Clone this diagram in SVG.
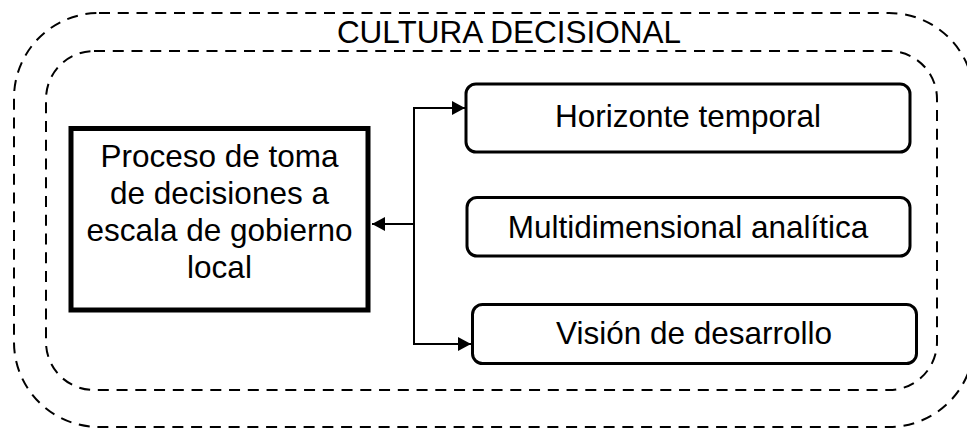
<svg xmlns="http://www.w3.org/2000/svg" width="967" height="428" viewBox="0 0 967 428">
  <style>
    .dash { fill: none; stroke: #000; stroke-width: 2; stroke-dasharray: 11 7.75; }
    .box { fill: #fff; stroke: #000; stroke-width: 3; }
    .main { fill: #fff; stroke: #000; stroke-width: 5; }
    .t { font-family: "Liberation Sans", Arial, sans-serif; font-size: 31.5px; fill: #000; text-anchor: middle; }
    .conn { fill: none; stroke: #000; stroke-width: 2; }
  </style>
  <defs>
    <marker id="arr" viewBox="0 0 13 14" refX="13" refY="7" markerWidth="13" markerHeight="14" markerUnits="userSpaceOnUse" orient="auto">
      <path d="M0,0 L13,7 L0,14 Z" fill="#000"/>
    </marker>
  </defs>
  <rect width="967" height="428" fill="#fff"/>

  <g id="cultura-decisional">
    <rect class="dash" x="14" y="13" width="960" height="414" rx="85" ry="85"/>
    <rect class="dash" x="46" y="51" width="891" height="339" rx="48" ry="48"/>
    <text class="t" x="509" y="43">CULTURA DECISIONAL</text>
  </g>

  <g id="connectors">
    <path class="conn" d="M414,224 L414,108 L465,108" marker-end="url(#arr)"/>
    <path class="conn" d="M414,224 L414,344 L471,344" marker-end="url(#arr)"/>
    <path class="conn" d="M414,224 L372,224" marker-end="url(#arr)"/>
  </g>

  <g id="proceso">
    <rect class="main" x="71" y="128.5" width="297" height="181.5"/>
    <text class="t" x="219.5" y="167">Proceso de toma</text>
    <text class="t" x="219.5" y="204">de decisiones a</text>
    <text class="t" x="219.5" y="241">escala de gobierno</text>
    <text class="t" x="219.5" y="278">local</text>
  </g>

  <g id="horizonte">
    <rect class="box" x="466" y="84" width="444" height="68" rx="10" ry="10"/>
    <text class="t" x="688" y="127">Horizonte temporal</text>
  </g>

  <g id="multidimensional">
    <rect class="box" x="467" y="197.5" width="443" height="58.5" rx="10" ry="10"/>
    <text class="t" x="688" y="238">Multidimensional analítica</text>
  </g>

  <g id="vision">
    <rect class="box" x="472.5" y="304.5" width="444" height="59" rx="10" ry="10"/>
    <text class="t" x="694" y="344">Visión de desarrollo</text>
  </g>
</svg>
